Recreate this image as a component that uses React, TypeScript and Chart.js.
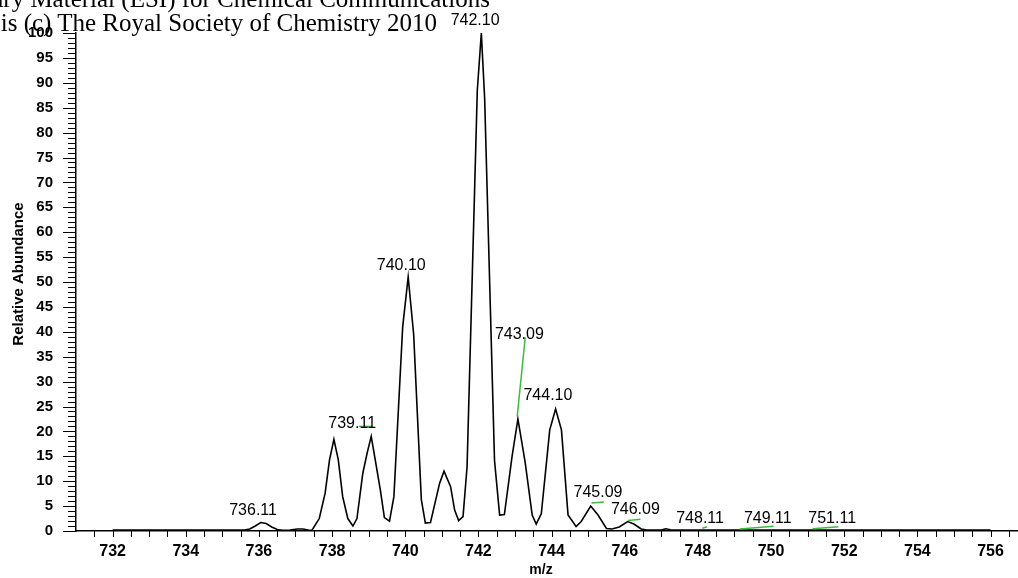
import React, { useEffect, useRef } from "react";
import { Chart, registerables } from "chart.js";

Chart.register(...registerables);

// Profile spectrum
const mzValues = [
  732.0, 735.6, 735.75, 735.9, 736.05, 736.2, 736.35, 736.5, 736.65, 736.85,
  737.05, 737.2, 737.35, 737.45, 737.65, 737.81, 737.93, 738.05, 738.17, 738.29,
  738.43, 738.57, 738.68, 738.84, 738.96, 739.07, 739.18, 739.32, 739.43, 739.57,
  739.69, 739.93, 740.08, 740.23, 740.44, 740.55, 740.69, 740.94, 741.06, 741.24,
  741.35, 741.46, 741.58, 741.69, 741.97, 742.08, 742.17, 742.44, 742.58, 742.71,
  742.92, 743.08, 743.28, 743.47, 743.58, 743.72, 743.95, 744.11, 744.27, 744.45,
  744.67, 744.81, 745.07, 745.27, 745.5, 745.65, 745.85, 746.08, 746.25, 746.45,
  746.6, 747.0, 747.12, 747.25, 747.4, 756.0,
];
const abundance = [
  0.2, 0.2, 0.4, 1.0, 1.7, 1.5, 0.8, 0.3, 0.15, 0.2,
  0.4, 0.4, 0.2, 0.15, 2.5, 7.6, 14.3, 18.4, 14.3, 6.9,
  2.5, 1.0, 2.5, 11.6, 15.7, 19.0, 14.3, 8.2, 2.7, 2.0,
  6.9, 41.0, 51.0, 39.5, 6.3, 1.6, 1.7, 9.6, 12.0, 8.9,
  4.2, 2.1, 2.9, 12.9, 88.5, 100, 87, 14.2, 3.2, 3.3,
  15.0, 22.5, 13.7, 3.2, 1.4, 3.5, 20.3, 24.5, 20.3, 3.2,
  0.9, 1.9, 5.0, 3.2, 0.5, 0.4, 0.8, 1.9, 1.4, 0.4,
  0.2, 0.2, 0.45, 0.25, 0.2, 0.2,
];

// Peak labels (text, anchor m/z, anchor abundance)
const peakLabels = ["736.11", "739.11", "740.10", "742.10", "743.09", "744.10", "745.09", "746.09", "748.11", "749.11", "751.11"];
const peakLabelMz = [735.84, 738.55, 739.89, 741.91, 743.12, 743.9, 745.27, 746.29, 748.06, 749.91, 751.67];
const peakLabelAb = [3.2, 20.6, 52.4, 101.7, 38.5, 26.3, 6.8, 3.4, 1.55, 1.55, 1.55];

// Green connector lines (from m/z, from abundance, to m/z, to abundance)
const connFromMz = [738.73, 743.28, 745.09, 746.09, 748.12, 749.14, 751.13];
const connFromAb = [21.0, 38.9, 5.6, 2.1, 0.55, 0.4, 0.45];
const connToMz = [739.1, 743.06, 745.43, 746.43, 748.25, 750.07, 751.84];
const connToAb = [21.0, 23.0, 5.8, 2.35, 0.85, 0.95, 0.85];

const xTickValues = [732, 734, 736, 738, 740, 742, 744, 746, 748, 750, 752, 754, 756];
const yTickValues = [0, 5, 10, 15, 20, 25, 30, 35, 40, 45, 50, 55, 60, 65, 70, 75, 80, 85, 90, 95, 100];

const SANS = '"Liberation Sans", Arial, sans-serif';

const decorPlugin = {
  id: "decor",
  afterDraw(chart: any) {
    const ctx = chart.ctx;
    const xs = chart.scales.x;
    const ys = chart.scales.y;
    const area = chart.chartArea;
    ctx.save();
    ctx.strokeStyle = "#000";
    ctx.lineWidth = 1;
    // y minor/major ticks
    for (let v = 0; v <= 100; v++) {
      const py = Math.round(ys.getPixelForValue(v)) + 0.5;
      const len = v % 5 === 0 ? 13 : 8;
      ctx.beginPath();
      ctx.moveTo(area.left - len, py);
      ctx.lineTo(area.left, py);
      ctx.stroke();
    }
    // x ticks every 0.5
    for (let v = 731.5; v <= 756.6; v += 0.5) {
      const px = Math.round(xs.getPixelForValue(v)) + 0.5;
      ctx.beginPath();
      ctx.moveTo(px, area.bottom);
      ctx.lineTo(px, area.bottom + 6);
      ctx.stroke();
    }
    // green connectors
    ctx.strokeStyle = "#3dbb3d";
    ctx.lineWidth = 1.5;
    for (let i = 0; i < connFromMz.length; i++) {
      ctx.beginPath();
      ctx.moveTo(xs.getPixelForValue(connFromMz[i]), ys.getPixelForValue(connFromAb[i]));
      ctx.lineTo(xs.getPixelForValue(connToMz[i]), ys.getPixelForValue(connToAb[i]));
      ctx.stroke();
    }
    // peak labels
    ctx.fillStyle = "#000";
    ctx.font = `16px ${SANS}`;
    ctx.textAlign = "center";
    ctx.textBaseline = "alphabetic";
    for (let i = 0; i < peakLabels.length; i++) {
      ctx.fillText(peakLabels[i], xs.getPixelForValue(peakLabelMz[i]), ys.getPixelForValue(peakLabelAb[i]));
    }
    // axis titles
    ctx.font = `bold 14px ${SANS}`;
    ctx.textBaseline = "middle";
    ctx.fillText("m/z", (area.left + area.right) / 2 - 6, 570);
    ctx.translate(19, 274);
    ctx.rotate(-Math.PI / 2);
    ctx.font = `bold 15px ${SANS}`;
    ctx.fillText("Relative Abundance", 0, 0);
    ctx.restore();
  },
};

export default function App() {
  const canvasRef = useRef<HTMLCanvasElement | null>(null);

  useEffect(() => {
    if (!canvasRef.current) return;
    const chart = new Chart(canvasRef.current, {
      type: "line",
      data: {
        datasets: [
          {
            data: mzValues.map((m, i) => ({ x: m, y: abundance[i] })),
            borderColor: "#000",
            borderWidth: 1.6,
            pointRadius: 0,
            tension: 0,
            fill: false,
          },
        ],
      },
      options: {
        animation: false,
        responsive: false,
        events: [],
        layout: { padding: { top: 33, left: 0, right: 0, bottom: 0 } },
        plugins: { legend: { display: false }, tooltip: { enabled: false }, title: { display: false } },
        scales: {
          x: {
            type: "linear",
            min: 731,
            max: 756.75,
            grid: { display: false, drawTicks: true, tickLength: 6 },
            border: { display: true, color: "#000", width: 1.5 },
            ticks: {
              color: "#000",
              font: { family: SANS, size: 16, weight: "bold" },
              padding: 5,
              autoSkip: false,
              maxRotation: 0,
              callback: (v: any) => String(v),
            },
            afterBuildTicks: (s: any) => {
              s.ticks = xTickValues.map((v) => ({ value: v }));
            },
            afterFit: (s: any) => {
              s.height = 47;
            },
          },
          y: {
            type: "linear",
            min: 0,
            max: 100,
            grid: { display: false, drawTicks: true, tickLength: 13 },
            border: { display: true, color: "#000", width: 1.5 },
            ticks: {
              color: "#000",
              font: { family: SANS, size: 15, weight: "bold" },
              padding: 10,
              autoSkip: false,
              callback: (v: any) => String(v),
            },
            afterBuildTicks: (s: any) => {
              s.ticks = yTickValues.map((v) => ({ value: v }));
            },
            afterFit: (s: any) => {
              s.width = 76;
            },
          },
        },
      },
      plugins: [decorPlugin],
    });
    return () => chart.destroy();
  }, []);

  const serif: React.CSSProperties = {
    position: "absolute",
    font: '25px "Liberation Serif", "Times New Roman", serif',
    lineHeight: "25px",
    whiteSpace: "nowrap",
    color: "#000",
  };

  return (
    <div style={{ position: "absolute", left: 0, top: 0, width: 1018, height: 578, overflow: "hidden", background: "#fff" }}>
      <canvas ref={canvasRef} width={1018} height={578} style={{ display: "block", width: 1018, height: 578 }} />
      <div style={{ ...serif, right: 1018 - 490, top: -14 }}>Supplementary Material (ESI) for Chemical Communications</div>
      <div style={{ ...serif, right: 1018 - 437, top: 9.6 }}>This journal is (c) The Royal Society of Chemistry 2010</div>
    </div>
  );
}
